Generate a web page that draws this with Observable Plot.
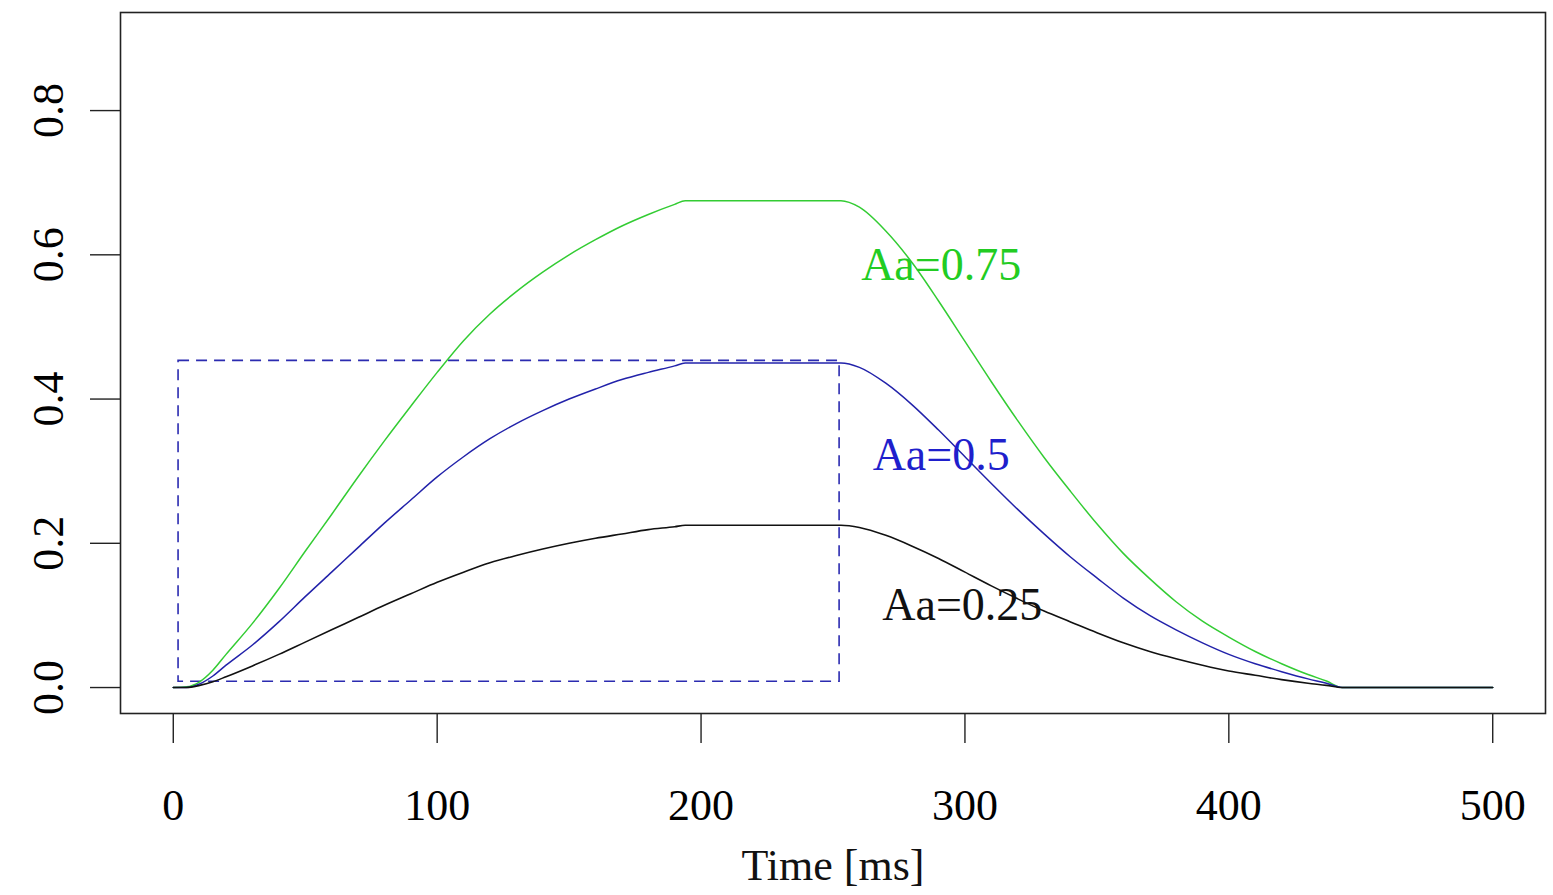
<!DOCTYPE html>
<html>
<head>
<meta charset="utf-8">
<script src="https://cdn.jsdelivr.net/npm/d3@7"></script>
<script src="https://cdn.jsdelivr.net/npm/@observablehq/plot@0.6"></script>
<style>
  html, body { margin: 0; padding: 0; background: white; }
  #chart svg { display: block; }
</style>
</head>
<body>
<div id="chart"></div>
<script>
// Time axis (ms)
const times = [0,5,10,15,20,30,40,50,60,70,80,90,100,110,120,130,140,150,160,170,180,190,194,253,260,270,280,290,300,310,320,330,340,350,360,370,380,390,400,410,420,430,437,443,500];

// Series values
const aa075 = [0,0.001,0.008,0.024,0.046,0.089,0.137,0.189,0.240,0.292,0.342,0.390,0.437,0.481,0.518,0.549,0.576,0.600,0.621,0.640,0.656,0.670,0.675,0.675,0.666,0.633,0.589,0.536,0.480,0.424,0.370,0.319,0.272,0.227,0.186,0.151,0.119,0.092,0.070,0.050,0.033,0.018,0.009,0,0];
const aa05  = [0,0.000,0.005,0.016,0.031,0.059,0.091,0.126,0.160,0.194,0.228,0.260,0.292,0.320,0.345,0.366,0.384,0.400,0.414,0.427,0.437,0.446,0.450,0.450,0.444,0.422,0.392,0.357,0.320,0.283,0.247,0.213,0.181,0.152,0.124,0.100,0.080,0.062,0.046,0.033,0.022,0.012,0.006,0,0];
const aa025 = [0,0.000,0.003,0.008,0.015,0.030,0.046,0.063,0.080,0.097,0.114,0.130,0.146,0.160,0.173,0.183,0.192,0.200,0.207,0.213,0.219,0.223,0.225,0.225,0.222,0.211,0.196,0.179,0.160,0.141,0.123,0.106,0.091,0.076,0.062,0.050,0.040,0.031,0.023,0.017,0.011,0.006,0.003,0,0];

// Labels
const labelText = ["Aa=0.75", "Aa=0.5", "Aa=0.25"];
const labelX = [291, 291, 299];
const labelY = [0.585, 0.322, 0.114];

// Dashed box
const boxX = [2, 252.5];
const boxY = [0.008, 0.453];

// Ticks
const xTicks = [0, 100, 200, 300, 400, 500];
const yTicks = [0, 0.2, 0.4, 0.6, 0.8];

const xLabel = "Time [ms]";

const mk = (vals) => times.map((t, i) => ({t, v: vals[i]}));
const green = mk(aa075), blue = mk(aa05), black = mk(aa025);
const labels = labelText.map((s, i) => ({s, x: labelX[i], y: labelY[i]}));
const box = [{x1: boxX[0], x2: boxX[1], y1: boxY[0], y2: boxY[1]}];

const chart = Plot.plot({
  width: 1553,
  height: 895,
  marginLeft: 120,
  marginRight: 8,
  marginTop: 12,
  marginBottom: 182,
  style: {fontFamily: "'Liberation Serif', 'Times New Roman', serif", fontSize: "44px", background: "white", color: "black"},
  x: {domain: [-20, 520]},
  y: {domain: [-0.036, 0.936]},
  marks: [
    Plot.rect(box, {x1: "x1", x2: "x2", y1: "y1", y2: "y2", fill: "none", stroke: "#2b2bb0", strokeWidth: 1.6, strokeDasharray: "11,7"}),
    Plot.line(green, {x: "t", y: "v", stroke: "#33cc33", strokeWidth: 1.5, curve: "monotone-x"}),
    Plot.line(blue, {x: "t", y: "v", stroke: "#2222aa", strokeWidth: 1.5, curve: "monotone-x"}),
    Plot.line(black, {x: "t", y: "v", stroke: "#111", strokeWidth: 1.6, curve: "monotone-x"}),
    Plot.text(labels, {x: "x", y: "y", text: "s", fontSize: 46, textAnchor: "middle", lineAnchor: "middle",
      fill: (d) => d.s === "Aa=0.75" ? "#22cc22" : d.s === "Aa=0.5" ? "#1f1fcc" : "#111"}),
    Plot.frame({stroke: "#222", strokeWidth: 1.6}),
    Plot.axisX({ticks: xTicks, tickSize: 30, tickPadding: 45, label: null, strokeWidth: 1.4, stroke: "#222"}),
    Plot.axisY({ticks: yTicks, tickSize: 30, tickPadding: 28, tickRotate: -90, tickFormat: d3.format(".1f"), label: null, strokeWidth: 1.4, stroke: "#222"}),
    Plot.text([xLabel], {frameAnchor: "bottom", dy: 152, text: (d) => d, fontSize: 44, textAnchor: "middle", lineAnchor: "middle", fill: "#111"})
  ]
});
document.getElementById("chart").appendChild(chart);
</script>
</body>
</html>
